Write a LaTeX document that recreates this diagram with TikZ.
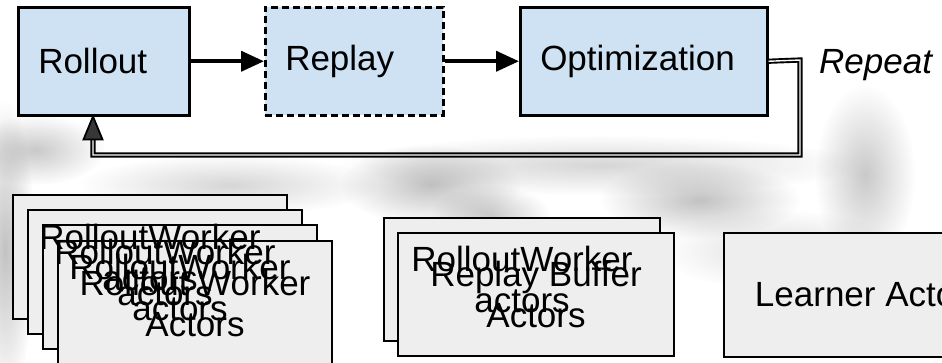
\documentclass[tikz,border=0pt]{standalone}
\usepackage{fontspec}
\setmainfont{Liberation Sans}
\usetikzlibrary{arrows.meta,fadings,calc}
\definecolor{procblue}{RGB}{207,226,243}
\definecolor{actorgray}{RGB}{238,238,238}
\definecolor{hazegray}{RGB}{120,120,120}
\definecolor{tipgray}{RGB}{55,55,55}
\tikzfading[name=softblob, inner color=transparent!0, outer color=transparent!100]
\begin{document}
\begin{tikzpicture}[x=1pt,y=-1pt,
  bigfont/.style={font=\fontsize{35}{41}\selectfont},
  proc/.style={draw=black, line width=2.5pt, fill=procblue, anchor=north west,
    inner xsep=20pt, inner ysep=0pt, minimum height=108pt, align=left, bigfont},
  actorbox/.style={draw=black, line width=2pt, fill=actorgray, anchor=north west,
    inner sep=0pt, minimum width=274pt, minimum height=124pt},
  actorlabel/.style={inner sep=0pt, align=center, bigfont},
  flow/.style={line width=4pt, -{Triangle[length=23pt,width=20pt]}},
  loopback/.style={double=white, double distance=1.4pt, line width=1.9pt, line join=miter},
  haze/.style={fill=hazegray, path fading=softblob}
]
\useasboundingbox (0,0) rectangle (942,362);
\clip (0,0) rectangle (942,362);
\fill[white] (0,0) rectangle (942,362);

% soft grey haze behind the diagram
\fill[haze, opacity=0.45] (5,250) ellipse [x radius=30pt, y radius=150pt];
\fill[haze, opacity=0.40] (35,150) ellipse [x radius=70pt, y radius=35pt];
\fill[haze, opacity=0.45] (430,185) ellipse [x radius=90pt, y radius=40pt];
\fill[haze, opacity=0.40] (490,215) ellipse [x radius=60pt, y radius=30pt];
\fill[haze, opacity=0.45] (700,200) ellipse [x radius=100pt, y radius=38pt];
\fill[haze, opacity=0.40] (865,175) ellipse [x radius=50pt, y radius=90pt];
\fill[haze, opacity=0.30] (600,165) ellipse [x radius=260pt, y radius=30pt];
\fill[haze, opacity=0.30] (230,185) ellipse [x radius=150pt, y radius=30pt];
\fill[haze, opacity=0.25] (780,250) ellipse [x radius=120pt, y radius=40pt];

% processing stages
\node[proc, text width=131pt] (rollout) at (17,6) {Rollout};
\node[proc, text width=138pt, dash pattern=on 7pt off 4pt] (replay) at (264,6) {Replay};
\node[proc, text width=207pt] (opt) at (519,6) {Optimization};
\node[anchor=base west, inner sep=0pt, font=\itshape\fontsize{35}{41}\selectfont] (repeat) at (819,73) {Repeat};

\draw[flow] (rollout.east) -- (replay.west);
\draw[flow] (replay.east) -- (opt.west);

% loop back from optimization to rollout
\coordinate (fbA) at (800,60);
\coordinate (fbB) at (800,155);
\coordinate (fbC) at (93,155);
\coordinate (fbTip) at (rollout.south -| fbC);
\draw[loopback] (opt.east) -- (fbA) -- (fbB) -- (fbC) -- ($(fbTip)+(0,22)$);
\draw[line width=1.8pt, fill=tipgray, line join=miter]
  (fbTip) -- ++(-9.5,23) -- ++(19,0) -- cycle;

% rollout worker actors
\node[actorbox] (w1) at (12,194) {};
\node[actorbox] (w2) at (27,209) {};
\node[actorbox] (w3) at (42,224) {};
\node[actorbox] (w4) at (57,240) {};

% replay buffer actors
\node[actorbox, minimum width=276pt, minimum height=123pt] (rb1) at (383,217) {};
\node[actorbox, minimum width=276pt, minimum height=123pt] (rb2) at (397,232) {};

% learner actor
\node[actorbox, bigfont] (learner) at (723,232) {Learner Actor};

% labels sit above every box
\node[actorlabel] (w1t) at (w1) {RolloutWorker\\actors};
\node[actorlabel] (w2t) at (w2) {RolloutWorker\\actors};
\node[actorlabel] (w3t) at (w3) {RolloutWorker\\actors};
\node[actorlabel] (w4t) at (w4) {Rollout Worker\\Actors};
\node[actorlabel] (rb1t) at (rb1) {RolloutWorker\\actors};
\node[actorlabel] (rb2t) at (rb2) {Replay Buffer\\Actors};
\end{tikzpicture}
\end{document}
